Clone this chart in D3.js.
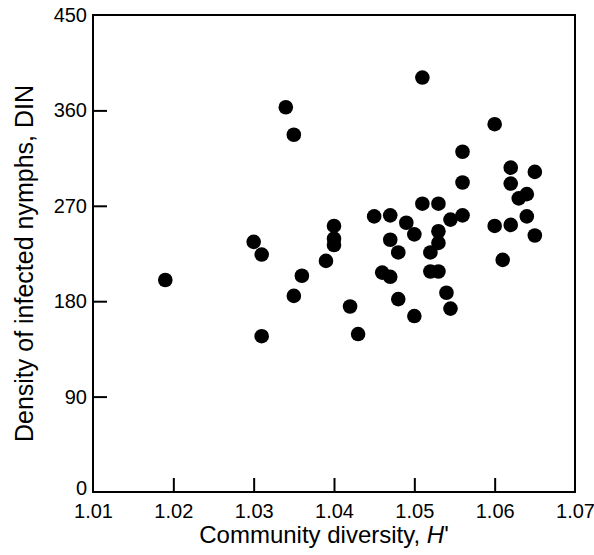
<!DOCTYPE html>
<html>
<head>
<meta charset="utf-8">
<script src="https://cdn.jsdelivr.net/npm/d3@7"></script>
<style>
  body { margin: 0; background: #fff; }
  svg { font-family: "Liberation Sans", Arial, sans-serif; }
</style>
</head>
<body>
<svg id="chart" width="594" height="555"></svg>
<script>
// community diversity H'
var diversity = [1.019, 1.030, 1.031, 1.031, 1.034, 1.035, 1.035, 1.036, 1.039, 1.040,
  1.040, 1.040, 1.042, 1.043, 1.045, 1.047, 1.047, 1.046, 1.047, 1.048,
  1.048, 1.049, 1.050, 1.050, 1.051, 1.051, 1.053, 1.053, 1.053, 1.052,
  1.052, 1.053, 1.054, 1.0545, 1.0545, 1.056, 1.056, 1.056, 1.060, 1.060,
  1.061, 1.062, 1.062, 1.062, 1.063, 1.064, 1.064, 1.065, 1.065];
// density of infected nymphs
var din = [200, 236, 224, 147, 363, 337, 185, 204, 218, 251,
  239, 233, 175, 149, 260, 261, 238, 207, 203, 226,
  182, 254, 243, 166, 391, 272, 272, 246, 235, 226,
  208, 208, 188, 173, 257, 261, 321, 292, 347, 251,
  219, 306, 291, 252, 277, 281, 260, 302, 242];
var xTicks = [1.01, 1.02, 1.03, 1.04, 1.05, 1.06, 1.07];
var yTicks = [0, 90, 180, 270, 360, 450];

var margin = {top: 15, right: 19, bottom: 63, left: 93},
    width = 594 - margin.left - margin.right,
    height = 555 - margin.top - margin.bottom;

var svg = d3.select("#chart")
  .append("g")
  .attr("transform", "translate(" + margin.left + "," + margin.top + ")");

var x = d3.scaleLinear().domain([1.01, 1.07]).range([0, width]);
var y = d3.scaleLinear().domain([0, 450]).range([height, 0]);

// frame
svg.append("rect")
  .attr("width", width).attr("height", height)
  .attr("fill", "none").attr("stroke", "#000").attr("stroke-width", 2);

// ticks point inward
var xAxis = svg.append("g")
  .attr("transform", "translate(0," + height + ")")
  .call(d3.axisBottom(x).tickValues(xTicks).tickSizeInner(-14).tickSizeOuter(0).tickPadding(12).tickFormat(d3.format(".2f")));
var yAxis = svg.append("g")
  .call(d3.axisLeft(y).tickValues(yTicks).tickSizeInner(-14).tickSizeOuter(0).tickPadding(6));

[xAxis, yAxis].forEach(function(a) {
  a.select(".domain").remove();
  a.selectAll("line").attr("stroke", "#000").attr("stroke-width", 2);
  a.selectAll("text").attr("fill", "#000").attr("font-family", null).attr("font-size", 20);
});
// first and last ticks sit on the frame, drop their lines
xAxis.selectAll(".tick line").filter(function(d){ return d === 1.01 || d === 1.07; }).remove();
yAxis.selectAll(".tick line").filter(function(d){ return d === 0 || d === 450; }).remove();
// the 0 sits a touch above the corner
yAxis.selectAll(".tick text").filter(function(d){ return d === 0; }).attr("dy", "0.1em");

svg.selectAll(".dot")
  .data(diversity)
  .enter().append("circle")
  .attr("class", "dot")
  .attr("cx", function(d){ return x(d); })
  .attr("cy", function(d, i){ return y(din[i]); })
  .attr("r", 7.3)
  .attr("fill", "#000");

// axis titles
var xt = svg.append("text")
  .attr("x", width / 2 - 10).attr("y", height + 51)
  .attr("text-anchor", "middle").attr("font-size", 24);
xt.append("tspan").text("Community diversity, ");
xt.append("tspan").attr("font-style", "italic").text("H");
xt.append("tspan").text("'");

svg.append("text")
  .attr("transform", "translate(" + (-60) + "," + (height / 2 + 10) + ") rotate(-90)")
  .attr("text-anchor", "middle").attr("font-size", 25)
  .text("Density of infected nymphs, DIN");
</script>
</body>
</html>
